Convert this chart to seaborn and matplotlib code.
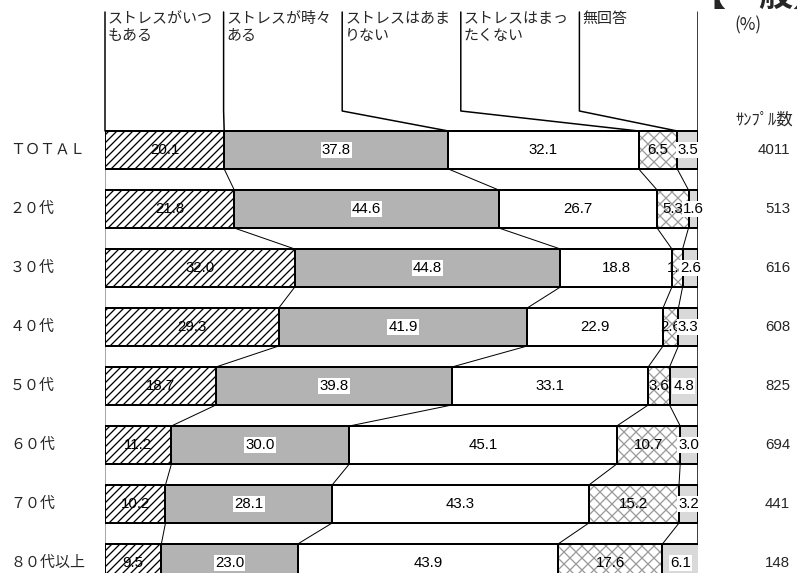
import matplotlib
matplotlib.use("Agg")
import matplotlib.pyplot as plt
import matplotlib.transforms as mtransforms
import numpy as np
import pandas as pd
import seaborn as sns

# ---------------- data ----------------
categories = ["ＴＯＴＡＬ", "２０代", "３０代", "４０代", "５０代", "６０代", "７０代", "８０代以上"]
series_names = ["ストレスがいつ\nもある", "ストレスが時々\nある", "ストレスはあま\nりない",
                "ストレスはまっ\nたくない", "無回答"]
always = [20.1, 21.8, 32.0, 29.3, 18.7, 11.2, 10.2, 9.5]
sometimes = [37.8, 44.6, 44.8, 41.9, 39.8, 30.0, 28.1, 23.0]
rarely = [32.1, 26.7, 18.8, 22.9, 33.1, 45.1, 43.3, 43.9]
never = [6.5, 5.3, 1.8, 2.6, 3.6, 10.7, 15.2, 17.6]
no_answer = [3.5, 1.6, 2.6, 3.3, 4.8, 3.0, 3.2, 6.1]
sample_sizes = ["4011", "513", "616", "608", "825", "694", "441", "148"]
sample_header = "ｻﾝﾌﾟﾙ数"
unit_label = "(%)"
title_text = "【一般】"

# ---------------- setup ----------------
sns.set_style("white")
JP = ["Noto Sans CJK JP", "DejaVu Sans"]
LAT = ["Liberation Sans", "Noto Sans CJK JP"]
plt.rcParams["font.family"] = JP

DPI = 144
PX = 72.0 / DPI  # points per pixel
plt.rcParams["hatch.linewidth"] = 1.3 * PX

W, H = 797, 573
fig = plt.figure(figsize=(W / DPI, H / DPI), dpi=DPI)
fig.patch.set_facecolor("white")
ax = fig.add_axes([105 / W, 0, 593 / W, 1])

ROW0, PITCH = 150.0, 59.0
def ypx(p):
    return (p - ROW0) / PITCH

BAR_H = 38.0 / PITCH
HALF = BAR_H / 2

vals = np.array([always, sometimes, rarely, never, no_answer])  # (5, 8)
cum = np.cumsum(vals, axis=0)
starts = cum - vals

fills = ["white", "#b3b3b3", "white", "white", "#d9d9d9"]
edges = ["black", "black", "black", "#9a9a9a", "black"]
hatches = ["//////", None, None, "xxxx", None]

# draw cumulative layers from the largest to the smallest
for k in range(4, -1, -1):
    df = pd.DataFrame({"cat": categories, "val": cum[k]})
    sns.barplot(data=df, x="val", y="cat", orient="h", color=fills[k],
                edgecolor=edges[k], hatch=hatches[k], linewidth=2 * PX,
                width=BAR_H, saturation=1, errorbar=None, ax=ax, zorder=2)

# black outline for the cross-hatched segment
ax.barh(y=np.arange(len(categories)), width=vals[3], left=starts[3], height=BAR_H,
        fill=False, edgecolor="black", linewidth=2 * PX, zorder=3)

ax.set_xlim(0, 100)
ax.set_ylim(ypx(H), ypx(0))
ax.axis("off")

# value labels
for i in range(len(categories)):
    for k in range(5):
        cx = starts[k][i] + vals[k][i] / 2
        bbox = None
        if k in (1, 2, 4):
            bbox = dict(facecolor="white", edgecolor="none", pad=0.6)
        ax.text(cx, i, f"{vals[k][i]:.1f}", ha="center", va="center",
                fontsize=15 * PX, family=LAT, color="black", bbox=bbox, zorder=6)

# connector lines between bars
for i in range(len(categories) - 1):
    for k in range(4):
        ax.plot([cum[k][i], cum[k][i + 1]], [i + HALF, i + 1 - HALF],
                color="black", lw=1.0 * PX, zorder=1)

# header legend lines + labels
y_top = ypx(12)
y_knee = ypx(111)
y_bar = -HALF
for j, name in enumerate(series_names):
    xh = 20 * j
    target = starts[j][0]
    ax.plot([xh, xh, target], [y_top, y_knee, y_bar], color="black",
            lw=1.5 * PX, zorder=1, clip_on=False)
    ax.text(xh + 0.5, ypx(12), name, ha="left", va="top", fontsize=15 * PX,
            family=JP, linespacing=1.3, zorder=5)

# left (grey) and right (black) frame lines
ax.plot([0, 0], [y_bar, ypx(H + 10)], color="#8c8c8c", lw=1.5 * PX, zorder=1)
ax.plot([100, 100], [y_top, ypx(H + 10)], color="black", lw=1.5 * PX, zorder=1)

# row labels and sample sizes
trans = mtransforms.blended_transform_factory(fig.transFigure, ax.transData)
for i, cat in enumerate(categories):
    ax.text(10 / W, i, cat, transform=trans, ha="left", va="center",
            fontsize=15 * PX, family=JP)
    ax.text(790 / W, i, sample_sizes[i], transform=trans, ha="right", va="center",
            fontsize=15 * PX, family=LAT)

fig.text(793 / W, 1 - 120 / H, sample_header, ha="right", va="center",
         fontsize=16.5 * PX, family=JP)
fig.text(748 / W, 1 - 25 / H, unit_label, ha="center", va="center",
         fontsize=17 * PX, family=JP)
fig.text(691 / W, 1 - 6 / H, title_text, ha="left", va="baseline",
         fontsize=34 * PX, family=JP, fontweight="bold")

fig.savefig("out.png", dpi=DPI, facecolor="white")
